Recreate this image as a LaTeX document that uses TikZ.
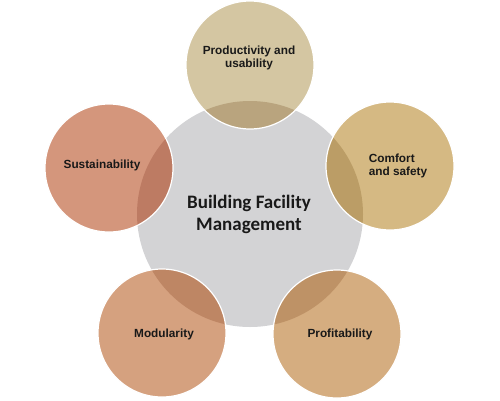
\documentclass[tikz,border=0pt]{standalone}
\usepackage{fontspec}
\setmainfont{Liberation Sans}
\newfontfamily\calib{Carlito}
\definecolor{graybg}{HTML}{D3D3D5}
\definecolor{topc}{HTML}{D4C6A2}
\definecolor{topd}{HTML}{B9A47E}
\definecolor{rightc}{HTML}{D5B983}
\definecolor{rightd}{HTML}{BB9D66}
\definecolor{leftc}{HTML}{D4967C}
\definecolor{leftd}{HTML}{BD7B63}
\definecolor{blc}{HTML}{D5A17F}
\definecolor{bld}{HTML}{BE8664}
\definecolor{brc}{HTML}{D5AD80}
\definecolor{brd}{HTML}{BE9266}
\begin{document}
\begin{tikzpicture}[x=1pt,y=-1pt,
  ring/.style={circle,draw=white,line width=1.2pt,minimum size=128pt,inner sep=0pt},
  lab/.style={font=\bfseries\fontsize{11.8}{13}\selectfont,text=black!90,align=center,inner sep=0pt}]
\useasboundingbox (0,0) rectangle (500,400);
\fill[white] (0,0) rectangle (500,400);
% centre
\node[circle,fill=graybg,minimum size=226pt,inner sep=0pt] (hub) at (250,214) {};
% satellite fills
\fill[topc] (250,65) circle (64pt);
\fill[rightc] (390,166) circle (64pt);
\fill[leftc] (109,168) circle (64pt);
\fill[blc] (162,333) circle (64pt);
\fill[brc] (337,334) circle (64pt);
% overlaps
\begin{scope}
\clip (250,214) circle (113pt);
\fill[topd] (250,65) circle (64pt);
\fill[rightd] (390,166) circle (64pt);
\fill[leftd] (109,168) circle (64pt);
\fill[bld] (162,333) circle (64pt);
\fill[brd] (337,334) circle (64pt);
\end{scope}
% satellite outlines
\node[ring] (top) at (250,65) {};
\node[ring] (right) at (390,166) {};
\node[ring] (left) at (109,168) {};
\node[ring] (bl) at (162,333) {};
\node[ring] (br) at (337,334) {};
% labels
\node[font=\calib\bfseries\fontsize{19}{22}\selectfont,align=center,text=black!90] (hubtxt) at (249,214) {Building Facility\\Management};
\node[lab] (toptxt) at (249,58) {Productivity and\\usability};
\node[lab,align=left] (righttxt) at (398,166) {Comfort\\and safety};
\node[lab] (lefttxt) at (102,165) {Sustainability};
\node[lab] (bltxt) at (164,334) {Modularity};
\node[lab] (brtxt) at (340,334) {Profitability};
\end{tikzpicture}
\end{document}
